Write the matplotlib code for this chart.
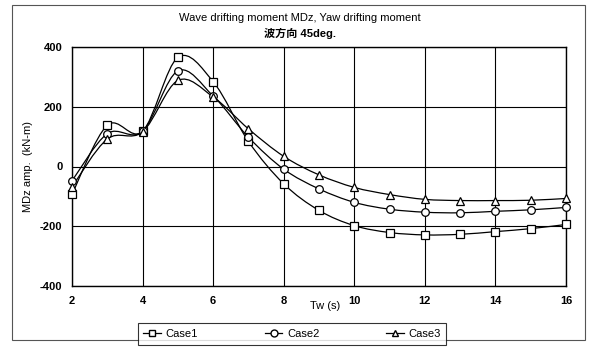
import numpy as np
from matplotlib import pyplot as plt
from matplotlib.path import Path
from matplotlib.patches import PathPatch, Rectangle
from matplotlib.lines import Line2D

plt.rcParams['font.family'] = ['Liberation Sans', 'Noto Sans CJK JP']
plt.rcParams['axes.unicode_minus'] = False

tw = [2, 3, 4, 5, 6, 7, 8, 9, 10, 11, 12, 13, 14, 15, 16]
case1 = [-93, 138, 118, 365, 284, 84, -58, -147, -198, -221, -229, -227, -218, -208, -194]
case2 = [-48, 110, 118, 320, 236, 98, -9, -75, -120, -143, -153, -155, -150, -145, -137]
case3 = [-68, 92, 116, 288, 233, 126, 34, -28, -70, -94, -110, -114, -114, -113, -107]
names = ['Case1', 'Case2', 'Case3']
markers = ['s', 'o', '^']


def smooth_path(x, y):
  # Excel-like smoothed line: cubic bezier segments through the points
  x = np.asarray(x, float)
  y = np.asarray(y, float)
  verts = [(x[0], y[0])]
  codes = [Path.MOVETO]
  n = len(x)
  for i in range(n - 1):
    p0 = np.array([x[max(i - 1, 0)], y[max(i - 1, 0)]])
    p1 = np.array([x[i], y[i]])
    p2 = np.array([x[i + 1], y[i + 1]])
    p3 = np.array([x[min(i + 2, n - 1)], y[min(i + 2, n - 1)]])
    c1 = p1 + (p2 - p0) / 6
    c2 = p2 - (p3 - p1) / 6
    verts += [tuple(c1), tuple(c2), tuple(p2)]
    codes += [Path.CURVE4] * 3
  return Path(verts, codes)


fig = plt.figure(figsize=(6, 3.5), dpi=100)
ax = fig.add_axes([72 / 600, 1 - 286 / 350, 494 / 600, 239 / 350])

for ys, m in zip([case1, case2, case3], markers):
  ax.add_patch(PathPatch(smooth_path(tw, ys), fill=False, lw=0.9, color='black', zorder=3))
  ax.plot(tw, ys, ls='none', marker=m, ms=5.5, mfc='white', mec='black', mew=0.9,
          zorder=4, clip_on=False)

ax.set_xlim(2, 16)
ax.set_ylim(-400, 400)
ax.set_xticks(range(2, 17, 2))
ax.set_yticks(range(-400, 401, 200))
ax.grid(True, color='black', lw=0.8)
ax.tick_params(length=0, labelsize=8, pad=7)
for lab in ax.get_xticklabels() + ax.get_yticklabels():
  lab.set_fontweight('bold')
for s in ax.spines.values():
  s.set_linewidth(1.0)

fig.text(28 / 600, 1 - 166 / 350, 'MDz amp.  (kN-m)', fontsize=8, rotation=90,
         ha='center', va='center')
fig.text(325 / 600, 1 - 306 / 350, 'Tw (s)', fontsize=8, ha='center', va='center')
fig.text(300 / 600, 1 - 18 / 350, 'Wave drifting moment MDz, Yaw drifting moment',
         fontsize=8, ha='center', va='center')
fig.text(300 / 600, 1 - 33 / 350, '波方向 45deg.', fontsize=8, ha='center', va='center',
         fontweight='bold')

# outer chart frame
fig.add_artist(Rectangle((12 / 600, 1 - 340 / 350), 573 / 600, 335 / 350, transform=fig.transFigure,
                         fill=False, lw=0.8, color='#555555'))

handles = [Line2D([], [], color='black', lw=0.9, marker=m, ms=5, mfc='white', mec='black')
           for m in markers]
leg = fig.legend(handles, names, loc='center', bbox_to_anchor=(292 / 600, 1 - 334 / 350),
                 ncol=3, fontsize=8, frameon=True, fancybox=False, edgecolor='black',
                 columnspacing=6, handlelength=1.6, handletextpad=0.4, borderpad=0.5)
leg.get_frame().set_linewidth(0.8)

fig.savefig('out.png', dpi=100)
